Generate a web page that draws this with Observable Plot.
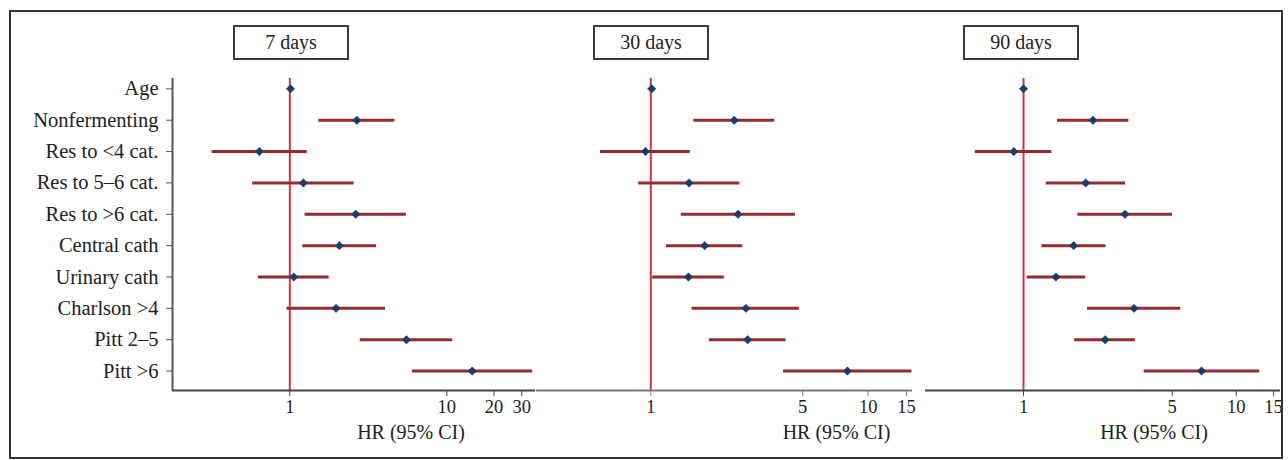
<!DOCTYPE html>
<html><head><meta charset="utf-8">
<script src="https://cdn.jsdelivr.net/npm/d3@7"></script>
<script src="https://cdn.jsdelivr.net/npm/@observablehq/plot@0.6"></script>
<style>
body{margin:0;background:#fff;}
#wrap{position:relative;width:1288px;height:460px;font-family:"Liberation Serif",serif;color:#222;overflow:hidden;}
#wrap svg{position:absolute;top:0;}
.frame{position:absolute;left:9px;top:10px;width:1274px;height:449px;border:2px solid #333;box-sizing:border-box;pointer-events:none;}
.title{position:absolute;top:25px;height:35px;width:116px;border:2px solid #3a3a3a;box-sizing:border-box;font-size:20px;display:flex;align-items:center;justify-content:center;background:#fff;color:#222;}
</style></head><body><div id="wrap"></div>
<script>
const categories = ["Age","Nonfermenting","Res to <4 cat.","Res to 5\u20136 cat.","Res to >6 cat.","Central cath","Urinary cath","Charlson >4","Pitt 2\u20135","Pitt >6"];
const periods = ["7 days","30 days","90 days"];
const hr7 = [1.01, 2.67, 0.64, 1.22, 2.63, 2.07, 1.06, 1.97, 5.53, 14.5];
const lo7 = [1.00, 1.53, 0.32, 0.58, 1.25, 1.21, 0.63, 0.96, 2.81, 6.04];
const hi7 = [1.02, 4.67, 1.29, 2.57, 5.53, 3.57, 1.78, 4.07, 10.9, 35.2];
const hr30 = [1.01, 2.42, 0.945, 1.50, 2.52, 1.77, 1.49, 2.74, 2.79, 8.03];
const lo30 = [1.00, 1.58, 0.587, 0.88, 1.38, 1.18, 1.02, 1.55, 1.86, 4.08];
const hi30 = [1.02, 3.72, 1.52, 2.57, 4.63, 2.65, 2.18, 4.83, 4.19, 15.9];
const hr90 = [1.00, 2.12, 0.90, 1.96, 3.00, 1.72, 1.42, 3.31, 2.42, 6.87];
const lo90 = [0.995, 1.445, 0.593, 1.28, 1.80, 1.22, 1.04, 2.00, 1.74, 3.69];
const hi90 = [1.01, 3.13, 1.36, 3.02, 5.02, 2.44, 1.96, 5.49, 3.36, 12.9];
const xTicks7 = [1, 10, 20, 30];
const xTicks30 = [1, 5, 10, 15];
const xTicks90 = [1, 5, 10, 15];
const xLabel = "HR (95% CI)";

const panels = [
  {title: periods[0], hr: hr7, lo: lo7, hi: hi7, ticks: xTicks7, left: 0, width: 536, mL: 172, mR: 1, domain: [0.179, 36.7], labelDx: 57, titleLeft: 233, axisColor: "#444", yAxis: true},
  {title: periods[1], hr: hr30, lo: lo30, hi: hi30, ticks: xTicks30, left: 536, width: 376, mL: 0, mR: 0, domain: [0.298, 16], labelDx: 112, titleLeft: 593, axisColor: "#777", yAxis: false},
  {title: periods[2], hr: hr90, lo: lo90, hi: hi90, ticks: xTicks90, left: 925, width: 363, mL: 0, mR: 8, domain: [0.346, 16.16], labelDx: 51, titleLeft: 963, axisColor: "#444", yAxis: false}
];

const wrap = document.getElementById("wrap");
const yDomain = [0.67, 10.62];

for (const p of panels) {
  const rows = categories.map((c, i) => ({cat: c, i: i + 1, hr: p.hr[i], lo: p.lo[i], hi: p.hi[i]}));
  const marks = [
    Plot.ruleX([1], {stroke: "#d5304b", strokeWidth: 2}),
    Plot.ruleY(rows, {y: "i", x1: "lo", x2: "hi", stroke: "#962a30", strokeWidth: 3}),
    Plot.dot(rows, {x: "hr", y: "i", symbol: "diamond2", r: 3.8, fill: "#1b3b6c", stroke: "#1b3b6c", strokeWidth: 0.5}),
    Plot.ruleY([yDomain[1]], {stroke: p.axisColor, strokeWidth: 2}),
    Plot.axisX({ticks: p.ticks, tickFormat: d => String(d), tickSize: 6, tickPadding: 3, fontSize: 18.5, label: null, stroke: p.axisColor, fill: "#222"}),
    Plot.text([xLabel], {frameAnchor: "bottom", dx: p.labelDx, dy: 48, fontSize: 20, fill: "#222", text: d => d})
  ];
  if (p.yAxis) {
    marks.push(
      Plot.ruleX([p.domain[0]], {stroke: "#555", strokeWidth: 2}),
      Plot.axisY({ticks: d3.range(1, 11), tickFormat: i => categories[i - 1], tickSize: 6, tickPadding: 8, fontSize: 20.5, label: null, stroke: "#555", fill: "#222"})
    );
  }
  const svg = Plot.plot({
    width: p.width,
    height: 460,
    marginLeft: p.mL,
    marginRight: p.mR,
    marginTop: 78,
    marginBottom: 70,
    style: {fontFamily: "Liberation Serif", background: "transparent", overflow: "visible"},
    x: {type: "log", domain: p.domain},
    y: {type: "linear", domain: yDomain, reverse: true, axis: p.yAxis ? undefined : null},
    marks
  });
  svg.style.left = p.left + "px";
  svg.style.maxWidth = "none";
  wrap.appendChild(svg);
  const t = document.createElement("div");
  t.className = "title";
  t.style.left = p.titleLeft + "px";
  t.textContent = p.title;
  wrap.appendChild(t);
}
const fr = document.createElement("div");
fr.className = "frame";
wrap.appendChild(fr);
</script></body></html>
